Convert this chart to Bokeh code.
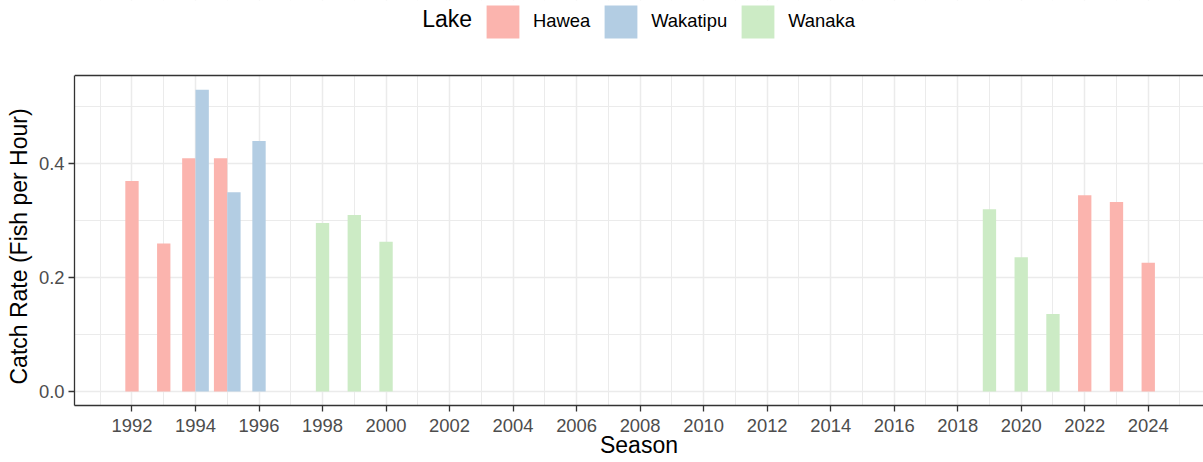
from bokeh.plotting import figure
from bokeh.models import (Range1d, SingleIntervalTicker, NumeralTickFormatter, Legend,
                          LegendItem, Span, Label, BoxAnnotation, ColumnDataSource, Title)
from bokeh.embed import file_html
from bokeh.resources import INLINE

# ---- data ----
lakes = ["Hawea", "Wakatipu", "Wanaka"]
lake_colors = ["#FBB4AE", "#B3CDE3", "#CCEBC5"]

season_hawea = [1992, 1993, 1994, 1995, 2022, 2023, 2024]
rate_hawea = [0.370, 0.260, 0.410, 0.410, 0.345, 0.333, 0.226]

season_wakatipu = [1994, 1995, 1996]
rate_wakatipu = [0.530, 0.350, 0.440]

season_wanaka = [1998, 1999, 2000, 2019, 2020, 2021]
rate_wanaka = [0.296, 0.310, 0.263, 0.320, 0.236, 0.136]

y_ticks_interval = 0.2
x_ticks_interval = 2

series = {
    "Hawea": (season_hawea, rate_hawea),
    "Wakatipu": (season_wakatipu, rate_wakatipu),
    "Wanaka": (season_wanaka, rate_wanaka),
}

FONT = "Liberation Sans"
BAR_W = 0.42

# dodge (preserve single): bars sharing a season are placed side by side
present = {}
for lake in lakes:
    for s in series[lake][0]:
        present.setdefault(s, []).append(lake)


def dodged(lake, seasons):
    out = []
    for s in seasons:
        grp = present[s]
        n = len(grp)
        i = grp.index(lake)
        out.append(s + (i - (n - 1) / 2) * BAR_W)
    return out


# panel limits (data units) and the plot frame, which also holds the legend strip on top
x_start, x_end = 1990.19, 2025.74
y_start, y_top = -0.0246, 0.5552
FRAME_H = 405            # px, frame spans the figure from the top down to the x axis
PANEL_H = 330            # px, the visible data panel
y_end = y_start + (y_top - y_start) * FRAME_H / PANEL_H

p = figure(width=1203, height=462, output_backend="svg", toolbar_location=None,
           title=None,
           x_range=Range1d(x_start, x_end), y_range=Range1d(y_start, y_end),
           min_border_left=74, min_border_right=0, min_border_top=0,
           min_border_bottom=57)
p.outline_line_color = None
p.background_fill_color = "white"
p.border_fill_color = "white"

renderers = {}
for lake, color in zip(lakes, lake_colors):
    seasons, rates = series[lake]
    src = ColumnDataSource(dict(x=dodged(lake, seasons), top=rates))
    renderers[lake] = p.vbar(x="x", top="top", bottom=0, width=BAR_W, source=src,
                             fill_color=color, line_color=None)

# ticks & grid
xt = SingleIntervalTicker(interval=x_ticks_interval, num_minor_ticks=2)
yt = SingleIntervalTicker(interval=y_ticks_interval, num_minor_ticks=2)
p.xaxis.ticker = xt
p.yaxis.ticker = yt
p.xgrid.ticker = xt
p.ygrid.ticker = yt
p.yaxis.formatter = NumeralTickFormatter(format="0.0")
p.yaxis.bounds = (y_start, y_top)
p.ygrid.bounds = (y_start, y_top)

for g in (p.xgrid, p.ygrid):
    g.grid_line_color = "#EBEBEB"
    g.grid_line_width = 1.5
    g.minor_grid_line_color = "#EBEBEB"
    g.minor_grid_line_width = 1.0

for ax in (p.xaxis, p.yaxis):
    ax.axis_line_color = "#333333"
    ax.axis_line_width = 1.3
    ax.major_tick_line_color = "#333333"
    ax.major_tick_line_width = 1.3
    ax.major_tick_out = 6
    ax.major_tick_in = 0
    ax.minor_tick_line_color = None
    ax.major_label_text_font = FONT
    ax.major_label_text_font_size = "18.4px"
    ax.major_label_text_color = "#4D4D4D"
    ax.major_label_standoff = 4
    ax.axis_label_text_font = FONT
    ax.axis_label_text_font_size = "23px"
    ax.axis_label_text_font_style = "normal"
    ax.axis_label_text_color = "black"

p.xaxis.major_label_standoff = 7
p.xaxis.axis_label = "Season"
p.xaxis.axis_label_standoff = -3

# y axis title, centred on the data panel (not on the taller frame)
p.add_layout(Title(text="Catch Rate (Fish per Hour)", align="left", offset=21,
                   standoff=7, text_font=FONT, text_font_size="23px",
                   text_font_style="normal", text_color="black"), "left")

# white strip above the panel (hides grid lines there), then the panel's top border
p.add_layout(BoxAnnotation(left=x_start, right=x_end, bottom=y_top, top=y_end,
                           fill_color="white", fill_alpha=1.0, line_color=None))
p.add_layout(Span(location=y_top, dimension="width", line_color="#333333", line_width=1.3))

# legend strip: title "Lake" followed by the keys
legend = Legend(items=[LegendItem(label=l, renderers=[renderers[l]]) for l in lakes],
                orientation="horizontal", location=(407.9, 363.4),
                glyph_width=41, glyph_height=41, label_standoff=10, spacing=10,
                padding=0, margin=0, border_line_color=None, background_fill_alpha=0,
                label_text_font=FONT, label_text_font_size="18.4px",
                label_text_color="black")
p.add_layout(legend)
p.add_layout(Label(x=347.7, y=386.7, x_units="screen", y_units="screen", text="Lake",
                   text_font=FONT, text_font_size="23px", text_color="black",
                   text_align="left", text_baseline="alphabetic"))

open("out.html", "w").write(file_html(p, INLINE))
